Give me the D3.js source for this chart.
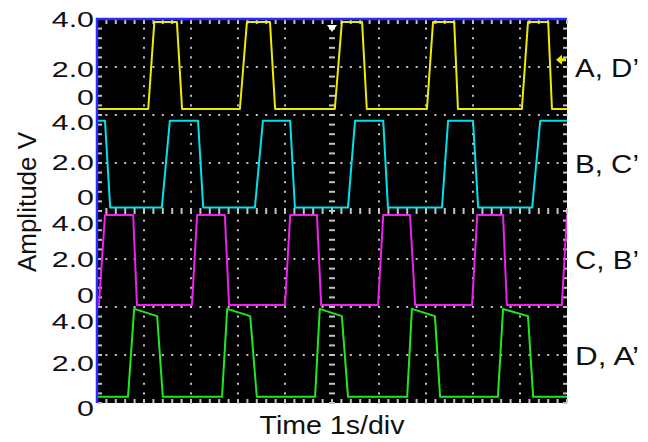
<!DOCTYPE html>
<html>
<head>
<meta charset="utf-8">
<script src="https://cdn.jsdelivr.net/npm/d3@7"></script>
<style>
  body { margin: 0; background: #fff; }
  text { font-family: "Liberation Sans", Arial, sans-serif; fill: #111; }
</style>
</head>
<body>
<div id="chart-area"></div>
<script>
// values (time in s = divisions, amplitude in V)
var channelNames = ["A, D\u2019", "B, C\u2019", "C, B\u2019", "D, A\u2019"];
var voltTicks = [4.0, 2.0, 0];
var timeDomain = [0, 10];

// edges as [start, end] in seconds
var aRise = [[1.09, 1.22], [3.04, 3.19], [5.06, 5.21], [7.02, 7.15], [9.04, 9.17]];
var aFall = [[1.70, 1.81], [3.68, 3.79], [5.64, 5.74], [7.60, 7.68], [9.60, 9.68]];
var bRise = [[1.38, 1.55], [3.36, 3.53], [5.34, 5.49], [7.34, 7.47], [9.26, 9.43]];
var bFall = [[0.17, 0.28], [2.15, 2.26], [4.11, 4.21], [6.09, 6.19], [8.00, 8.11]];
var cRise = [[0.04, 0.17], [2.02, 2.13], [4.00, 4.11], [5.98, 6.09], [7.98, 8.09], [9.89, 10.0]];
var cFall = [[0.77, 0.85], [2.72, 2.81], [4.68, 4.77], [6.66, 6.77], [8.64, 8.72]];
var dRise = [[0.66, 0.79], [2.66, 2.77], [4.64, 4.74], [6.60, 6.70], [8.53, 8.64]];
var dFall = [[1.28, 1.40], [3.26, 3.40], [5.21, 5.34], [7.19, 7.30], [9.17, 9.28]];

// [low, high at start of pulse, high at end of pulse]
var aLevels = [0.25, 3.88, 3.88];
var bLevels = [0.15, 3.76, 3.76];
var cLevels = [0.08, 3.83, 3.83];
var dLevels = [0.26, 3.92, 3.62];
var startsHigh = [false, true, false, false];

var triggerTime = 5.0;
var triggerLevel = 2.3;

var traceColors = ["#eeea00", "#00e2ec", "#f020f0", "#20e820"];

var margin = { left: 97, right: 81, top: 19, bottom: 39 };
var width = 648 - margin.left - margin.right,
    height = 442 - margin.top - margin.bottom;

var svg = d3.select("#chart-area")
    .append("svg")
        .attr("width", 648)
        .attr("height", 442);

var g = svg.append("g")
    .attr("transform", "translate(" + margin.left + "," + margin.top + ")");

// Scales
var x = d3.scaleLinear().domain(timeDomain).range([0, width]);
var yDiv = d3.scaleLinear().domain([0, 8]).range([height, 0]);
var bandH = height / 4;
var bands = channelNames.map(function(name, i) {
    return d3.scaleLinear().domain([0, 4]).range([bandH * (i + 1), bandH * i]);
});

// screen
g.append("rect")
    .attr("width", width)
    .attr("height", height)
    .attr("fill", "#000");

// Grid dots
var minorX = d3.range(0, 10.001, 0.2);
var minorY = d3.range(0, 8.001, 0.2);
var grid = g.append("g").attr("fill", "#c4c4c4");

d3.range(1, 10).forEach(function(k) {
    if (k === 5) return;
    grid.selectAll(null)
        .data(minorY)
        .enter().append("rect")
            .attr("x", x(k) - 1)
            .attr("y", function(d) { return yDiv(d) - 1; })
            .attr("width", 2)
            .attr("height", 2);
});
d3.range(1, 8).forEach(function(j) {
    if (j === 4) return;
    grid.selectAll(null)
        .data(minorX)
        .enter().append("rect")
            .attr("x", function(d) { return x(d) - 1; })
            .attr("y", yDiv(j) - 1)
            .attr("width", 2)
            .attr("height", 2);
});

// centre cross with dashes
grid.selectAll(null)
    .data(minorY)
    .enter().append("rect")
        .attr("x", x(5) - 3)
        .attr("y", function(d) { return yDiv(d) - 1; })
        .attr("width", 6)
        .attr("height", 2);
grid.selectAll(null)
    .data(minorX)
    .enter().append("rect")
        .attr("x", function(d) { return x(d) - 1; })
        .attr("y", yDiv(4) - 3)
        .attr("width", 2)
        .attr("height", 6);

// ticks on the frame
grid.selectAll(null).data(minorX).enter().append("rect")
    .attr("x", function(d) { return x(d) - 1; })
    .attr("y", 1).attr("width", 2).attr("height", 4);
grid.selectAll(null).data(minorX).enter().append("rect")
    .attr("x", function(d) { return x(d) - 1; })
    .attr("y", height - 4).attr("width", 2).attr("height", 4);
grid.selectAll(null).data(minorY).enter().append("rect")
    .attr("x", 1).attr("width", 4).attr("height", 2)
    .attr("y", function(d) { return yDiv(d) - 1; });
grid.selectAll(null).data(minorY).enter().append("rect")
    .attr("x", width - 4).attr("width", 4).attr("height", 2)
    .attr("y", function(d) { return yDiv(d) - 1; });

// Traces
function buildTrace(rises, falls, lv, high) {
    var ev = rises.map(function(e) { return { e: e, up: true }; })
        .concat(falls.map(function(e) { return { e: e, up: false }; }))
        .sort(function(a, b) { return a.e[0] - b.e[0]; });
    var pts = [[timeDomain[0], high ? lv[2] : lv[0]]];
    ev.forEach(function(d) {
        if (d.up) {
            pts.push([d.e[0], lv[0]], [d.e[1], lv[1]]);
        } else {
            pts.push([d.e[0], lv[2]], [d.e[1], lv[0]]);
        }
    });
    var last = ev[ev.length - 1];
    pts.push([timeDomain[1], last.up ? lv[1] : lv[0]]);
    return pts;
}

var traces = [
    buildTrace(aRise, aFall, aLevels, startsHigh[0]),
    buildTrace(bRise, bFall, bLevels, startsHigh[1]),
    buildTrace(cRise, cFall, cLevels, startsHigh[2]),
    buildTrace(dRise, dFall, dLevels, startsHigh[3])
];

g.append("clipPath").attr("id", "screen")
    .append("rect").attr("width", width).attr("height", height);

traces.forEach(function(pts, i) {
    var line = d3.line()
        .x(function(d) { return x(d[0]); })
        .y(function(d) { return bands[i](d[1]); });
    g.append("path")
        .attr("clip-path", "url(#screen)")
        .attr("d", line(pts))
        .attr("fill", "none")
        .attr("stroke", traceColors[i])
        .attr("stroke-width", 2)
        .attr("stroke-linejoin", "round");
});

// trigger markers
var tx = x(triggerTime);
g.append("path")
    .attr("d", "M" + (tx - 5) + ",6 L" + (tx + 5) + ",6 L" + tx + ",13 Z")
    .attr("fill", "#fff");
var ty = bands[0](triggerLevel);
g.append("path")
    .attr("d", "M" + (width - 11) + "," + ty + " L" + (width - 5) + "," + (ty - 5) +
        " L" + (width - 5) + "," + (ty - 1.5) + " L" + (width - 1) + "," + (ty - 1.5) +
        " L" + (width - 1) + "," + (ty + 1.5) + " L" + (width - 5) + "," + (ty + 1.5) +
        " L" + (width - 5) + "," + (ty + 5) + " Z")
    .attr("fill", traceColors[0]);

// frame: blue on top and left
g.append("line")
    .attr("x1", -1).attr("x2", width).attr("y1", 0).attr("y2", 0)
    .attr("stroke", "#2b2bff").attr("stroke-width", 2.5);
g.append("line")
    .attr("x1", 0).attr("x2", 0).attr("y1", -1).attr("y2", height)
    .attr("stroke", "#2b2bff").attr("stroke-width", 2.5);

// Amplitude labels, three per channel
var labelNudge = [[8, 10, -10], [15, 7, -6], [20, 8, -4], [22, 16, 13]];
bands.forEach(function(band, i) {
    voltTicks.forEach(function(v, j) {
        g.append("text")
            .attr("transform", "translate(-3," + (band(v) + labelNudge[i][j]) + ") scale(1.38,1)")
            .attr("text-anchor", "end")
            .attr("font-size", "22px")
            .text(v === 0 ? "0" : d3.format(".1f")(v));
    });
});

// channel names
bands.forEach(function(band, i) {
    g.append("text")
        .attr("x", width + 8)
        .attr("y", band(2) + 10)
        .attr("font-size", "25px")
        .attr("textLength", 64)
        .attr("lengthAdjust", "spacingAndGlyphs")
        .text(channelNames[i]);
});

// Axis titles
g.append("text")
    .attr("x", width / 2)
    .attr("y", height + 31)
    .attr("text-anchor", "middle")
    .attr("font-size", "26px")
    .attr("textLength", 145)
    .attr("lengthAdjust", "spacingAndGlyphs")
    .text("Time 1s/div");

g.append("text")
    .attr("transform", "rotate(-90)")
    .attr("x", -183)
    .attr("y", -61)
    .attr("text-anchor", "middle")
    .attr("font-size", "26px")
    .text("Amplitude V");
</script>
</body>
</html>
